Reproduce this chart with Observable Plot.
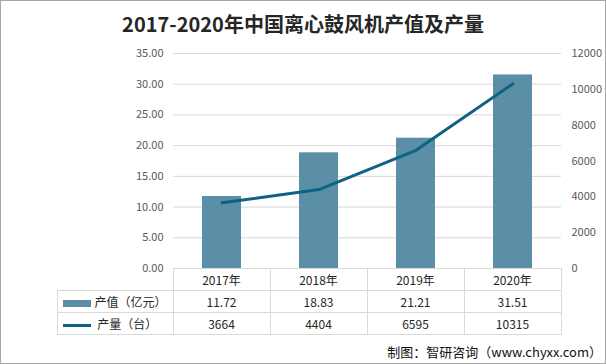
<!DOCTYPE html>
<html><head><meta charset="utf-8">
<script src="https://cdn.jsdelivr.net/npm/d3@7"></script>
<script src="https://cdn.jsdelivr.net/npm/@observablehq/plot@0.6"></script>
<style>
body{margin:0;background:#fff;}
#wrap{position:relative;width:606px;height:364px;overflow:hidden;font-family:"Noto Sans CJK SC","Noto Sans",sans-serif;background:#fff;}
#frame{position:absolute;left:0;top:0;width:606px;height:364px;box-sizing:border-box;border:1px solid #a6a6a6;pointer-events:none;}
#title{position:absolute;left:0;right:0;top:10px;text-align:center;font-size:20px;line-height:28px;font-weight:bold;color:#262626;}
#chart{position:absolute;left:0;top:0;}
#tbl{position:absolute;border-collapse:collapse;table-layout:fixed;font-size:12px;color:#262626;}
#tbl td{border:1px solid #d9d9d9;padding:0;text-align:center;height:21px;line-height:21px;white-space:nowrap;overflow:hidden;}
#tbl td.blank{border:none;}
#tbl td.leg{text-align:left;}
.sw{display:inline-block;width:28px;vertical-align:middle;margin-left:5px;margin-right:4px;}
#footer{position:absolute;right:4px;top:342px;font-size:13px;line-height:20px;color:#111;}
</style></head>
<body>
<div id="wrap">
  <div id="title">2017-2020年中国离心鼓风机产值及产量</div>
  <div id="chart"></div>
  <table id="tbl"></table>
  <div id="footer">制图：智研咨询（www.chyxx.com）</div>
  <div id="frame"></div>
</div>
<script>
const years = ["2017年","2018年","2019年","2020年"];
const outputValue = [11.72, 18.83, 21.21, 31.51];   // 产值（亿元）
const outputUnits = [3664, 4404, 6595, 10315];      // 产量（台）
const leftTicks = [0, 5, 10, 15, 20, 25, 30, 35];
const rightTicks = [0, 2000, 4000, 6000, 8000, 10000, 12000];
const seriesNames = ["产值（亿元）", "产量（台）"];

const Y1MAX = 35, Y2MAX = 12000;
const toY1 = v => v * Y1MAX / Y2MAX;
const barColor = "#5b8fa7", lineColor = "#0f6284";

const data = years.map((y, i) => ({year: y, value: outputValue[i], units: outputUnits[i]}));

const W = 606, H = 364, mL = 173, mR = 45, mT = 53, mB = 96;

const chart = Plot.plot({
  width: W, height: H,
  marginTop: mT, marginBottom: mB, marginLeft: mL, marginRight: mR,
  x: {domain: years, paddingInner: 0.6, paddingOuter: 0.3, axis: null},
  y: {domain: [0, Y1MAX], axis: null},
  style: {fontFamily: "'Noto Sans CJK SC', 'Noto Sans', sans-serif", fontSize: "11px", color: "#595959", background: "transparent"},
  marks: [
    Plot.gridY(leftTicks, {stroke: "#d9d9d9", strokeOpacity: 1}),
    Plot.axisY(leftTicks, {anchor: "left", label: null, tickSize: 0, tickPadding: 10, tickFormat: d => d.toFixed(2)}),
    Plot.axisY(rightTicks.map(toY1), {anchor: "right", label: null, tickSize: 0, tickPadding: 10, tickFormat: d => String(Math.round(d * Y2MAX / Y1MAX))}),
    Plot.barY(data, {x: "year", y: "value", fill: barColor}),
    Plot.line(data, {x: "year", y: d => toY1(d.units), stroke: lineColor, strokeWidth: 3})
  ]
});
document.getElementById("chart").appendChild(chart);

// data table aligned to the x band scale
const xs = chart.scale("x");
const step = xs.step;
const tableLeft = 57;
const tbl = document.getElementById("tbl");
tbl.style.left = (tableLeft - 0.5) + "px";
tbl.style.top = (H - mB - 0.5) + "px";
let html = "<colgroup><col style='width:" + (mL - tableLeft) + "px'>" + years.map(() => "<col style='width:" + step + "px'>").join("") + "</colgroup>";
html += "<tr><td class='blank'></td>" + years.map(y => "<td>" + y + "</td>").join("") + "</tr>";
html += "<tr><td class='leg'><span class='sw' style='height:7px;background:" + barColor + "'></span>" + seriesNames[0] + "</td>" + outputValue.map(v => "<td>" + v.toFixed(2) + "</td>").join("") + "</tr>";
html += "<tr><td class='leg'><span class='sw' style='height:3px;background:" + lineColor + "'></span>&nbsp;" + seriesNames[1] + "</td>" + outputUnits.map(v => "<td>" + v + "</td>").join("") + "</tr>";
tbl.innerHTML = html;
</script>
</body></html>
